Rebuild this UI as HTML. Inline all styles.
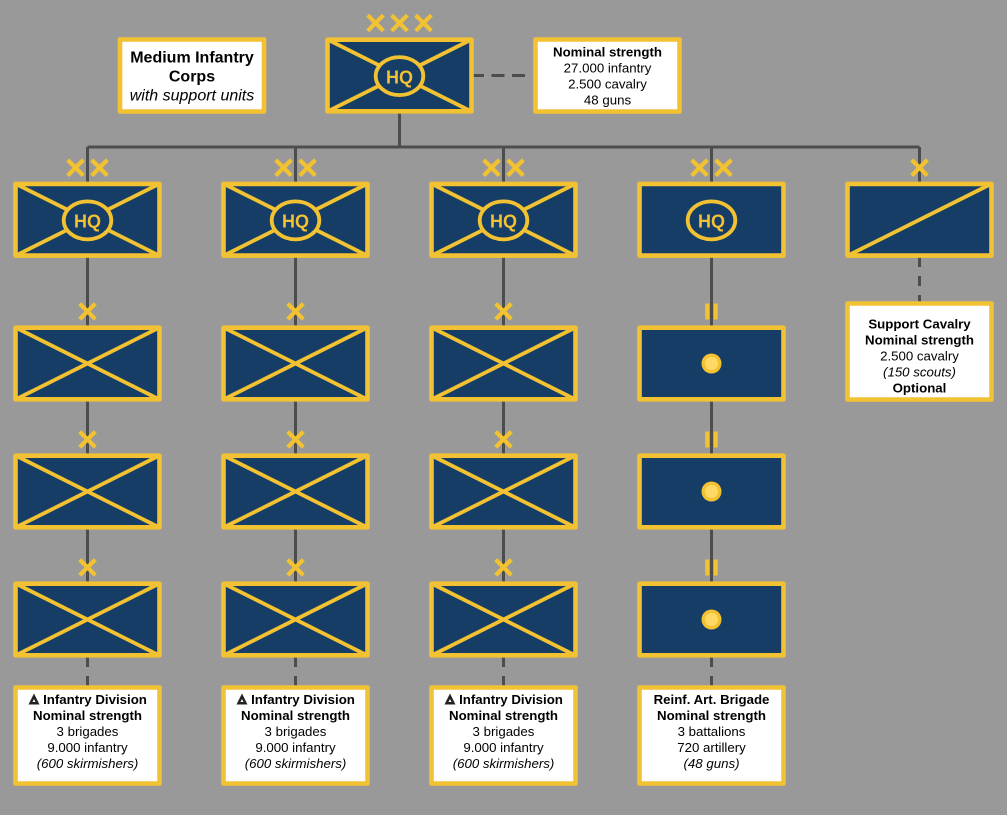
<!DOCTYPE html>
<html><head><meta charset="utf-8"><style>
html,body{margin:0;padding:0;background:#999}
svg{display:block}
text{font-family:"Liberation Sans",sans-serif;text-anchor:middle;fill:#000}
.t{font-size:13.25px}.b{font-weight:bold}.i{font-style:italic}
.hq{font-size:18px;font-weight:bold;fill:#f3c232}
.title{font-size:16px}
.conn{stroke:#4d4d4d;stroke-width:3;fill:none}
</style></head><body>
<svg width="1007" height="815" viewBox="0 0 1007 815" xmlns="http://www.w3.org/2000/svg">
<defs>
<g id="base"><rect x="0" y="0.2" width="144" height="71.6" fill="#153d66" stroke="#f3c232" stroke-width="4.6" stroke-linejoin="round"/></g>
<g id="cross"><use href="#base"/><path d="M0 0L144 72M144 0L0 72" stroke="#f3c232" stroke-width="3.8" fill="none"/></g>
<g id="hq"><ellipse cx="72" cy="36.6" rx="23.8" ry="19" fill="#153d66" stroke="#f3c232" stroke-width="3.8"/></g>
<g id="box"><rect x="0" y="0" width="144" height="96" fill="#fff" stroke="#f3c232" stroke-width="4.6" stroke-linejoin="round"/></g>
<path id="x" d="M-7.8 -7.8L7.8 7.8M7.8 -7.8L-7.8 7.8" stroke="#f3c232" stroke-width="4.2" fill="none"/>
<g id="ii"><rect x="-6.2" y="-8" width="4" height="16" fill="#f3c232"/><rect x="2.2" y="-8" width="4" height="16" fill="#f3c232"/></g>
<g id="dot"><circle r="10" fill="#f3c232"/><circle r="6.5" fill="#ffd966"/></g>
<path id="tri" d="M5.5 0L11 11H0ZM5.5 5.5L4 8.5H7Z" fill="#222" fill-rule="evenodd"/>
</defs>

<rect width="1007" height="815" fill="#999"/>

<!-- connectors -->
<path class="conn" d="M399.5 112V147M87.5 147H919.5"/>
<path class="conn" d="M87.5 147V657M295.5 147V657M503.5 147V657M711.5 147V657M919.5 147V184"/>
<path class="conn" stroke-dasharray="10 9" d="M87.5 657V687M295.5 657V687M503.5 657V687M711.5 657V687M919.5 257V304"/>
<path class="conn" stroke-dasharray="13 7.5" d="M471 75.5H526"/>

<!-- title -->
<rect x="120" y="39.5" width="144" height="72" fill="#fff" stroke="#f3c232" stroke-width="4.6" stroke-linejoin="round"/>
<text x="192" y="62.5" class="title b">Medium Infantry</text>
<text x="192" y="81.5" class="title b">Corps</text>
<text x="192" y="100.5" class="title i">with support units</text>

<!-- top corps -->
<use href="#cross" x="327.5" y="39.5"/><use href="#hq" x="327.5" y="39.5"/>
<text x="399.5" y="83.5" class="hq">HQ</text>
<use href="#x" x="375.5" y="23"/><use href="#x" x="399.5" y="23"/><use href="#x" x="423.5" y="23"/>

<!-- nominal -->
<rect x="535.5" y="39.5" width="144" height="72" fill="#fff" stroke="#f3c232" stroke-width="4.6" stroke-linejoin="round"/>
<text x="607.5" y="56.7" class="t b">Nominal strength</text>
<text x="607.5" y="72.7" class="t">27.000 infantry</text>
<text x="607.5" y="88.7" class="t">2.500 cavalry</text>
<text x="607.5" y="104.7" class="t">48 guns</text>

<!-- row 1 -->
<use href="#cross" x="15.5" y="183.75"/><use href="#hq" x="15.5" y="183.75"/><text x="87.5" y="227.3" class="hq">HQ</text>
<use href="#cross" x="223.5" y="183.75"/><use href="#hq" x="223.5" y="183.75"/><text x="295.5" y="227.3" class="hq">HQ</text>
<use href="#cross" x="431.5" y="183.75"/><use href="#hq" x="431.5" y="183.75"/><text x="503.5" y="227.3" class="hq">HQ</text>
<use href="#base" x="639.5" y="183.75"/><use href="#hq" x="639.5" y="183.75"/><text x="711.5" y="227.3" class="hq">HQ</text>
<use href="#base" x="847.5" y="183.75"/><path d="M847.5 255.75L991.5 183.75" stroke="#f3c232" stroke-width="3.8"/>

<use href="#x" x="75.5" y="167.7"/><use href="#x" x="99.5" y="167.7"/>
<use href="#x" x="283.5" y="167.7"/><use href="#x" x="307.5" y="167.7"/>
<use href="#x" x="491.5" y="167.7"/><use href="#x" x="515.5" y="167.7"/>
<use href="#x" x="699.5" y="167.7"/><use href="#x" x="723.5" y="167.7"/>
<use href="#x" x="919.5" y="167.7"/>

<!-- brigades -->
<use href="#cross" x="15.5" y="327.5"/><use href="#cross" x="223.5" y="327.5"/><use href="#cross" x="431.5" y="327.5"/>
<use href="#cross" x="15.5" y="455.5"/><use href="#cross" x="223.5" y="455.5"/><use href="#cross" x="431.5" y="455.5"/>
<use href="#cross" x="15.5" y="583.5"/><use href="#cross" x="223.5" y="583.5"/><use href="#cross" x="431.5" y="583.5"/>
<use href="#x" x="87.5" y="311.4"/><use href="#x" x="295.5" y="311.4"/><use href="#x" x="503.5" y="311.4"/>
<use href="#x" x="87.5" y="439.4"/><use href="#x" x="295.5" y="439.4"/><use href="#x" x="503.5" y="439.4"/>
<use href="#x" x="87.5" y="567.4"/><use href="#x" x="295.5" y="567.4"/><use href="#x" x="503.5" y="567.4"/>

<!-- artillery -->
<use href="#base" x="639.5" y="327.5"/><use href="#base" x="639.5" y="455.5"/><use href="#base" x="639.5" y="583.5"/>
<use href="#dot" x="711.5" y="363.5"/><use href="#dot" x="711.5" y="491.5"/><use href="#dot" x="711.5" y="619.5"/>
<use href="#ii" x="711.5" y="311.5"/><use href="#ii" x="711.5" y="439.5"/><use href="#ii" x="711.5" y="567.5"/>

<!-- support cavalry box -->
<use href="#box" x="847.5" y="303.5"/>
<text x="919.5" y="328.3" class="t b">Support Cavalry</text>
<text x="919.5" y="344.3" class="t b">Nominal strength</text>
<text x="919.5" y="360.3" class="t">2.500 cavalry</text>
<text x="919.5" y="376.3" class="t i">(150 scouts)</text>
<text x="919.5" y="392.3" class="t b">Optional</text>

<!-- bottom boxes -->
<use href="#box" x="15.5" y="687.5"/>
<use href="#tri" x="28.5" y="693.5"/>
<text x="95" y="704" class="t b">Infantry Division</text>
<text x="87.5" y="720" class="t b">Nominal strength</text>
<text x="87.5" y="736" class="t">3 brigades</text>
<text x="87.5" y="752" class="t">9.000 infantry</text>
<text x="87.5" y="768" class="t i">(600 skirmishers)</text>

<use href="#box" x="223.5" y="687.5"/>
<use href="#tri" x="236.5" y="693.5"/>
<text x="303" y="704" class="t b">Infantry Division</text>
<text x="295.5" y="720" class="t b">Nominal strength</text>
<text x="295.5" y="736" class="t">3 brigades</text>
<text x="295.5" y="752" class="t">9.000 infantry</text>
<text x="295.5" y="768" class="t i">(600 skirmishers)</text>

<use href="#box" x="431.5" y="687.5"/>
<use href="#tri" x="444.5" y="693.5"/>
<text x="511" y="704" class="t b">Infantry Division</text>
<text x="503.5" y="720" class="t b">Nominal strength</text>
<text x="503.5" y="736" class="t">3 brigades</text>
<text x="503.5" y="752" class="t">9.000 infantry</text>
<text x="503.5" y="768" class="t i">(600 skirmishers)</text>

<use href="#box" x="639.5" y="687.5"/>
<text x="711.5" y="704" class="t b">Reinf. Art. Brigade</text>
<text x="711.5" y="720" class="t b">Nominal strength</text>
<text x="711.5" y="736" class="t">3 battalions</text>
<text x="711.5" y="752" class="t">720 artillery</text>
<text x="711.5" y="768" class="t i">(48 guns)</text>
</svg>
</body></html>
